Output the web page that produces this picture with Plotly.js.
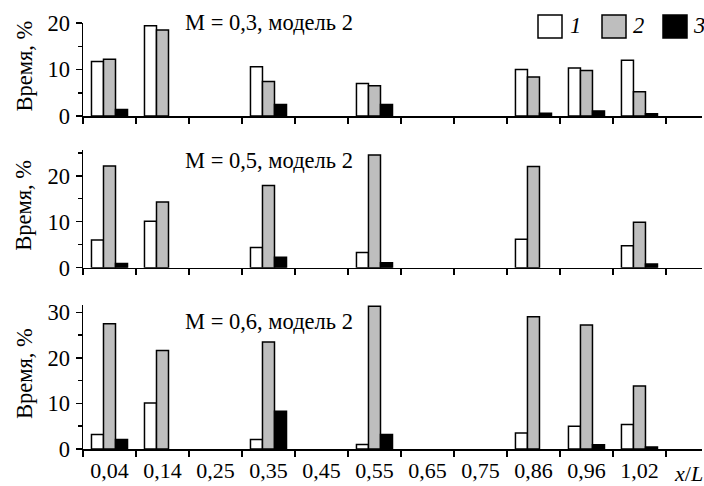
<!DOCTYPE html>
<html><head><meta charset="utf-8">
<script src="https://cdn.plot.ly/plotly-3.0.1.min.js"></script>
<style>html,body{margin:0;padding:0;background:#fff}</style>
</head><body><div id="chart" style="width:704px;height:486px"></div>
<script>
const categories = ['0,04','0,14','0,25','0,35','0,45','0,55','0,65','0,75','0,86','0,96','1,02'];
const seriesNames = ['1','2','3'];
const seriesColors = ['#ffffff','#bebebe','#000000'];
const panelTitles = ['M = 0,3, модель 2','M = 0,5, модель 2','M = 0,6, модель 2'];
const yTitle = 'Время, %';
const xTitle = '<i>x</i>/<i>L</i>';
// M = 0,3
const m03_s1 = [11.7, 19.4, null, 10.6, null, 7.0, null, null, 10.0, 10.3, 12.0];
const m03_s2 = [12.2, 18.5, null, 7.4, null, 6.5, null, null, 8.4, 9.8, 5.2];
const m03_s3 = [1.4, null, null, 2.5, null, 2.5, null, null, 0.6, 1.1, 0.5];
// M = 0,5
const m05_s1 = [6.0, 10.1, null, 4.4, null, 3.3, null, null, 6.2, null, 4.8];
const m05_s2 = [22.1, 14.3, null, 17.9, null, 24.5, null, null, 22.0, null, 9.9];
const m05_s3 = [0.9, null, null, 2.3, null, 1.1, null, null, null, null, 0.8];
// M = 0,6
const m06_s1 = [3.2, 10.1, null, 2.1, null, 1.0, null, null, 3.5, 5.0, 5.4];
const m06_s2 = [27.5, 21.6, null, 23.5, null, 31.3, null, null, 29.0, 27.2, 13.8];
const m06_s3 = [2.1, null, null, 8.3, null, 3.2, null, null, null, 0.95, 0.45];

const panels = [[m03_s1, m03_s2, m03_s3],[m05_s1, m05_s2, m05_s3],[m06_s1, m06_s2, m06_s3]];
const yRanges = [[0,20],[0,25.6],[0,31.6]];

// layout geometry (pixels)
const W = 704, H = 486, ML = 83, MR = 2, MT = 0, MB = 37;
const PW = W - ML - MR, PH = H - MT - MB;
const px = p => (p - ML) / PW;
const py = p => (H - MB - p) / PH;
const panelPix = [[23,116],[150,267.7],[305,449]];

const FONT = 'Liberation Serif, Times New Roman, serif';
const FS = 22.5;
const traces = [];
panels.forEach((series, i) => {
  const sfx = i === 0 ? '' : String(i + 1);
  series.forEach((vals, k) => {
    traces.push({
      type: 'bar', x: categories, y: vals, name: seriesNames[k],
      xaxis: 'x' + sfx, yaxis: 'y' + sfx, showlegend: false,
      marker: {color: seriesColors[k], line: {color: '#000', width: 1.5}},
      hoverinfo: 'skip'
    });
  });
});

const layout = {
  width: W, height: H, margin: {l: ML, r: MR, t: MT, b: MB},
  paper_bgcolor: '#fff', plot_bgcolor: '#fff',
  font: {family: FONT, size: FS, color: '#000'},
  barmode: 'group', bargap: 0.32, bargroupgap: 0,
  showlegend: false, annotations: [], shapes: []
};
panelPix.forEach((pp, i) => {
  const sfx = i === 0 ? '' : String(i + 1);
  layout['xaxis' + sfx] = {
    type: 'category', categoryorder: 'array', categoryarray: categories,
    range: [-0.5, 11.18], anchor: 'y' + sfx,
    showline: true, linecolor: '#000', linewidth: 1.5,
    ticks: 'outside', tickson: 'boundaries', ticklen: 6, tickwidth: 1.5, tickcolor: '#000',
    showgrid: false, zeroline: false, showticklabels: i === 2,
    ticklabelstandoff: 1, tickfont: {family: FONT, size: 22, color: '#000'}
  };
  layout['yaxis' + sfx] = {
    domain: [py(pp[1]), py(pp[0])], range: yRanges[i], anchor: 'x' + sfx,
    showline: true, linecolor: '#000', linewidth: 1.5,
    ticks: 'outside', ticklen: 6, tickwidth: 1.5, tickcolor: '#000', dtick: 10,
    minor: {dtick: 5, ticks: 'outside', ticklen: 3.5, tickwidth: 1.5, tickcolor: '#000', showgrid: false},
    showgrid: false, zeroline: false, ticklabelstandoff: 1,
    tickfont: {family: FONT, size: FS, color: '#000'}
  };
  layout.annotations.push({
    text: yTitle, textangle: -90, xref: 'paper', yref: 'paper',
    x: px(24), y: py((pp[0] + pp[1]) / 2 - 4), xanchor: 'center', yanchor: 'middle',
    showarrow: false, font: {family: FONT, size: FS, color: '#000'}
  });
  const ty = [23, 161, 321][i];
  layout.annotations.push({
    text: panelTitles[i], xref: 'paper', yref: 'paper',
    x: px(183), y: py(ty), xanchor: 'left', yanchor: 'middle',
    showarrow: false, font: {family: FONT, size: FS, color: '#000'}
  });
});
// x axis title
layout.annotations.push({
  text: xTitle, xref: 'paper', yref: 'paper', x: px(688), y: py(473),
  xanchor: 'center', yanchor: 'middle', showarrow: false,
  font: {family: FONT, size: 22, color: '#000'}
});
// legend (manual, large swatches)
const legPos = [[538, 568], [602, 631], [663, 691]];
legPos.forEach((lp, k) => {
  layout.shapes.push({
    type: 'rect', xref: 'paper', yref: 'paper',
    x0: px(lp[0]), x1: px(lp[0] + 24), y0: py(38), y1: py(15),
    fillcolor: seriesColors[k], line: {color: '#000', width: 1.5}
  });
  layout.annotations.push({
    text: '<i>' + seriesNames[k] + '</i>', xref: 'paper', yref: 'paper',
    x: px(lp[1]), y: py(26), xanchor: 'left', yanchor: 'middle', showarrow: false,
    font: {family: FONT, size: FS, color: '#000'}
  });
});
Plotly.newPlot('chart', traces, layout, {staticPlot: true, displayModeBar: false});
</script>
</body></html>
